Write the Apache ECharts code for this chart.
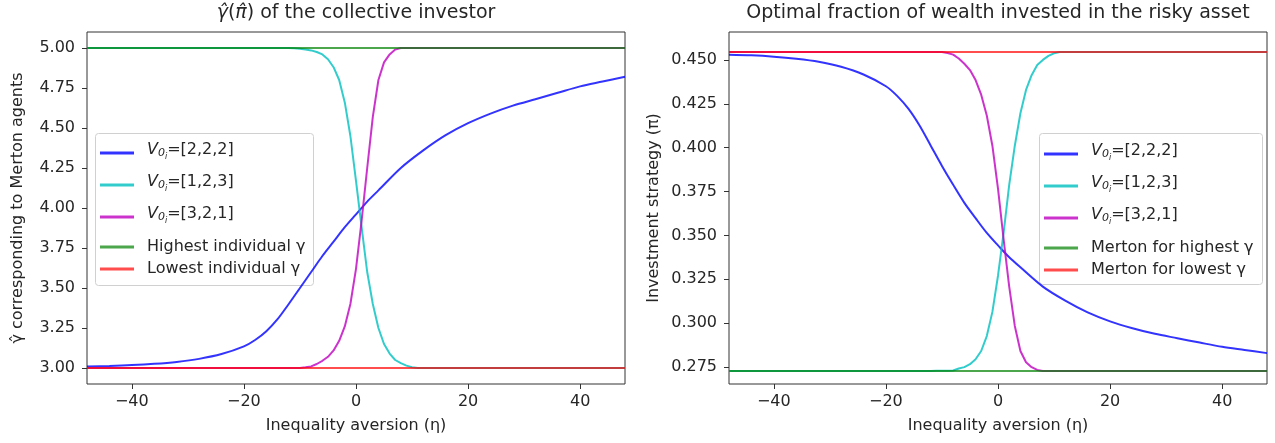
<!DOCTYPE html>
<html><head><meta charset="utf-8">
<script src="https://cdn.jsdelivr.net/npm/echarts@6/dist/echarts.min.js"></script>
<style>html,body{margin:0;padding:0;background:#fff}#c{width:1275px;height:443px}</style>
</head><body><div id="c"></div>
<script>
// ---- data ----
const etaBlue = [-48,-44,-40,-36,-32,-28,-24,-20,-18,-16,-14,-12,-10,-8,-6,-4,-2,0,2,4,8,12,16,20,24,28,32,36,40,44,48];
const gammaBlue = [3.010,3.013,3.018,3.026,3.038,3.057,3.087,3.135,3.175,3.23,3.305,3.40,3.50,3.60,3.70,3.79,3.88,3.96,4.04,4.11,4.25,4.36,4.455,4.53,4.59,4.64,4.68,4.72,4.76,4.79,4.82];
const piBlue = [0.4530,0.4526,0.4518,0.4506,0.4489,0.4461,0.4417,0.4350,0.4295,0.4222,0.4126,0.4011,0.3896,0.3788,0.3685,0.3598,0.3514,0.3443,0.3375,0.3318,0.3208,0.3128,0.3061,0.3010,0.2971,0.2939,0.2914,0.2889,0.2865,0.2847,0.2829];

const etaSig = [-48,-12,-11,-10,-9,-8,-7,-6,-5,-4,-3,-2,-1,0,1,2,3,4,5,6,7,8,9,10,11,12,48];
const gammaCyan = [5,5,4.998,4.995,4.99,4.985,4.975,4.96,4.93,4.88,4.80,4.66,4.45,4.17,3.88,3.60,3.40,3.25,3.15,3.09,3.05,3.03,3.015,3.005,3,3,3];
const gammaMagenta = [3,3,3,3,3.004,3.01,3.025,3.045,3.07,3.11,3.17,3.26,3.40,3.62,3.92,4.25,4.57,4.80,4.91,4.96,4.99,5,5,5,5,5,5];
const piCyan = [0.2727,0.2727,0.2728,0.2728,0.2729,0.2730,0.2741,0.2749,0.2766,0.2794,0.2841,0.2926,0.3064,0.3270,0.3514,0.3788,0.4011,0.4196,0.4329,0.4413,0.4471,0.4500,0.4523,0.4538,0.4545,0.4545,0.4545];
const piMagenta = [0.4545,0.4545,0.4545,0.4545,0.4539,0.4530,0.4508,0.4478,0.4442,0.4385,0.4302,0.4183,0.4011,0.3767,0.3479,0.3208,0.2984,0.2841,0.2777,0.2749,0.2733,0.2727,0.2727,0.2727,0.2727,0.2727,0.2727];

const etaEnds = [-48, 48];
const gammaHighest = [5, 5];
const gammaLowest = [3, 3];
const piHighestGamma = [0.2727, 0.2727];
const piLowestGamma = [0.4545, 0.4545];

const xTicks = [-40,-20,0,20,40];
const gammaTicks = [3.00,3.25,3.50,3.75,4.00,4.25,4.50,4.75,5.00];
const piTicks = [0.275,0.300,0.325,0.350,0.375,0.400,0.425,0.450];

const namesV = ['V0=[2,2,2]','V0=[1,2,3]','V0=[3,2,1]'];
const namesLeftH = ['Highest individual γ','Lowest individual γ'];
const namesRightH = ['Merton for highest γ','Merton for lowest γ'];

// ---- styling ----
const FONT = 'DejaVu Sans';
const TXT = '#262626';
const C_BLUE = 'rgba(0,0,255,0.8)';
const C_CYAN = 'rgba(0,191,191,0.8)';
const C_MAG = 'rgba(191,0,191,0.8)';
const C_GREEN = 'rgba(0,128,0,0.7)';
const C_RED = 'rgba(255,0,0,0.7)';

function pairs(xs, ys) { return xs.map((x, i) => [x, ys[i]]); }
function line(name, idx, xs, ys, color, smooth) {
  return {
    type: 'line', name, xAxisIndex: idx, yAxisIndex: idx,
    data: pairs(xs, ys), symbol: 'none', showSymbol: false, silent: true,
    smooth: smooth || false,
    lineStyle: { width: 2, color }, itemStyle: { color }, animation: false
  };
}
const minusFmt = v => (v < 0 ? '\u2212' + Math.abs(v) : String(v));

function xAxisCfg(idx) {
  return {
    gridIndex: idx, type: 'value', min: -48, max: 48,
    axisLine: { show: false }, splitLine: { show: false },
    axisTick: { show: true, length: 5, lineStyle: { color: '#333' }, customValues: xTicks },
    axisLabel: { customValues: xTicks, formatter: minusFmt, margin: 10, fontFamily: FONT, fontSize: 16, color: TXT },
    name: 'Inequality aversion (η)', nameLocation: 'middle', nameGap: 34,
    nameTextStyle: { fontFamily: FONT, fontSize: 16, color: TXT }
  };
}
function yAxisCfg(idx, min, max, ticks, dec, name, gap) {
  return {
    gridIndex: idx, type: 'value', min, max,
    axisLine: { show: false, onZero: false }, splitLine: { show: false },
    axisTick: { show: true, length: 5, lineStyle: { color: '#333' }, customValues: ticks },
    axisLabel: { customValues: ticks, formatter: v => v.toFixed(dec), margin: 12, fontFamily: FONT, fontSize: 16, color: TXT },
    name, nameLocation: 'middle', nameGap: gap,
    nameTextStyle: { fontFamily: FONT, fontSize: 16, color: TXT }
  };
}
const richV = {
  v: { fontFamily: FONT, fontStyle: 'italic', fontSize: 16, lineHeight: 16, padding: [0,0,3,0], verticalAlign: 'bottom', color: TXT },
  s: { fontFamily: FONT, fontStyle: 'italic', fontSize: 11, lineHeight: 11, padding: [0,0,2,0], verticalAlign: 'bottom', color: TXT },
  ss: { fontFamily: FONT, fontStyle: 'italic', fontSize: 8, lineHeight: 8, padding: [0,0,0,0], verticalAlign: 'bottom', color: TXT },
  t: { fontFamily: FONT, fontSize: 16, lineHeight: 16, padding: [0,0,3,0], verticalAlign: 'bottom', color: TXT }
};
function vFmt(name) {
  const rest = name.slice(2);
  return '{v|V}{s|0}{ss|i}{t|' + rest + '}';
}
function legendV(left, top) {
  return {
    data: namesV, orient: 'vertical', left, top, padding: 0, itemGap: 13,
    icon: 'rect', itemWidth: 34, itemHeight: 3, selectedMode: false, z: 5,
    formatter: vFmt,
    textStyle: { fontFamily: FONT, fontSize: 16, color: TXT, padding: [0,0,0,8], rich: richV }
  };
}
function legendH(names, left, top) {
  return {
    data: names, orient: 'vertical', left, top, padding: 0, itemGap: 2,
    icon: 'rect', itemWidth: 34, itemHeight: 3, selectedMode: false, z: 5,
    textStyle: { fontFamily: FONT, fontSize: 16, lineHeight: 20, color: TXT, padding: [0,0,0,8] }
  };
}

const chart = echarts.init(document.getElementById('c'), null, { renderer: 'canvas' });
chart.setOption({
  animation: false,
  backgroundColor: '#fff',
  title: [
    { text: '{m|γ̂}({m|π̂}) of the collective investor', left: 356, top: 4, textAlign: 'center', padding: 0,
      textStyle: { fontFamily: FONT, fontSize: 19, fontWeight: 'normal', color: TXT,
        rich: { m: { fontFamily: FONT, fontStyle: 'italic', fontSize: 19, color: TXT } } } },
    { text: 'Optimal fraction of wealth invested in the risky asset', left: 998, top: 4, textAlign: 'center', padding: 0,
      textStyle: { fontFamily: FONT, fontSize: 19, fontWeight: 'normal', color: TXT } }
  ],
  grid: [
    { left: 87, top: 32, width: 538, height: 352, show: true, borderColor: '#333', borderWidth: 1, outerBoundsMode: 'none' },
    { left: 729, top: 32, width: 538, height: 352, show: true, borderColor: '#333', borderWidth: 1, outerBoundsMode: 'none' }
  ],
  xAxis: [xAxisCfg(0), xAxisCfg(1)],
  yAxis: [
    yAxisCfg(0, 2.9, 5.1, gammaTicks, 2, 'γ̂ corresponding to Merton agents', 61),
    yAxisCfg(1, 0.2653, 0.4659, piTicks, 3, 'Investment strategy (π)', 67)
  ],
  legend: [
    legendV(100, 142),
    legendH(namesLeftH, 100, 237),
    legendV(1044, 143),
    legendH(namesRightH, 1044, 238)
  ],
  graphic: [
    { type: 'rect', z: 3, silent: true, shape: { x: 95.5, y: 133.5, width: 218, height: 152, r: 3 },
      style: { fill: 'rgba(255,255,255,0.8)', stroke: '#d0d0d0', lineWidth: 1 } },
    { type: 'rect', z: 3, silent: true, shape: { x: 1039.5, y: 133.5, width: 223, height: 151, r: 3 },
      style: { fill: 'rgba(255,255,255,0.8)', stroke: '#d0d0d0', lineWidth: 1 } }
  ],
  series: [
    line(namesV[0], 0, etaBlue, gammaBlue, C_BLUE, 0.3),
    line(namesV[1], 0, etaSig, gammaCyan, C_CYAN),
    line(namesV[2], 0, etaSig, gammaMagenta, C_MAG),
    line(namesLeftH[0], 0, etaEnds, gammaHighest, C_GREEN),
    line(namesLeftH[1], 0, etaEnds, gammaLowest, C_RED),
    line(namesV[0], 1, etaBlue, piBlue, C_BLUE, 0.3),
    line(namesV[1], 1, etaSig, piCyan, C_CYAN),
    line(namesV[2], 1, etaSig, piMagenta, C_MAG),
    line(namesRightH[0], 1, etaEnds, piHighestGamma, C_GREEN),
    line(namesRightH[1], 1, etaEnds, piLowestGamma, C_RED)
  ]
});
</script></body></html>
